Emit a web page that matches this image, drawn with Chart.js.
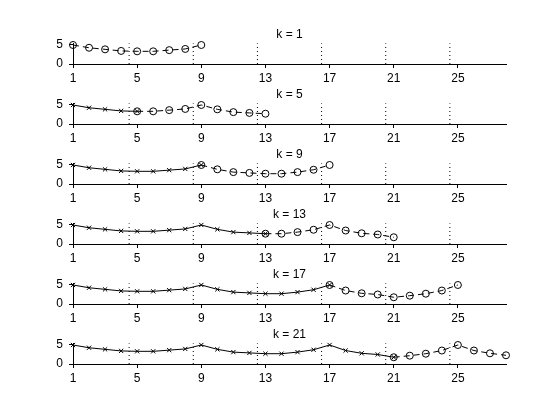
<!DOCTYPE html>
<html>
<head>
<meta charset="utf-8">
<script src="https://cdn.jsdelivr.net/npm/chart.js@4/dist/chart.umd.min.js"></script>
<style>
  body { margin: 0; background: #fff; }
  #wrap { position: relative; width: 560px; height: 420px; background: #fff; }
  canvas { position: absolute; left: 0; }
</style>
</head>
<body>
<div id="wrap"></div>
<script>
// data
const steps = [1, 2, 3, 4, 5, 6, 7, 8, 9, 10, 11, 12, 13, 14, 15, 16, 17, 18, 19, 20, 21, 22, 23, 24, 25, 26, 27, 28];
const values = [4.8, 4.1, 3.7, 3.3, 3.2, 3.2, 3.5, 3.8, 4.8, 3.7, 3.0, 2.8, 2.6, 2.6,
                3.0, 3.6, 4.8, 3.4, 2.7, 2.4, 1.7, 2.1, 2.6, 3.4, 4.8, 3.4, 2.7, 2.2];
const panels = [1, 5, 9, 13, 17, 21];
const windowLen = 9;
const boundaries = [4.5, 8.5, 12.5, 16.5, 20.5, 24.5];
const xTicks = [1, 5, 9, 13, 17, 21, 25];
const yTicks = [0, 5];

Chart.defaults.font.family = "'Liberation Sans', Arial, sans-serif";
Chart.defaults.font.size = 12;
Chart.defaults.color = '#000';

const wrap = document.getElementById('wrap');

panels.forEach((k, i) => {
  let cv = document.createElement('canvas');
  cv.width = 560;
  cv.height = 64;
  cv.style.top = (24 + 60 * i) + 'px';
  wrap.appendChild(cv);

  let past = [];
  for (let j = 0; j < k; j++) past.push({ x: steps[j], y: values[j] });
  let ahead = [];
  for (let j = k - 1; j < Math.min(k - 1 + windowLen, steps.length); j++) ahead.push({ x: steps[j], y: values[j] });

  // dotted separators
  let datasets = boundaries.map(b => ({
    data: [{ x: b, y: 0 }, { x: b, y: 5.2 }],
    borderColor: '#000', borderWidth: 1, borderDash: [1, 3],
    pointRadius: 0, clip: false
  }));
  if (k > 1) {
    datasets.push({
      data: past,
      borderColor: '#000', borderWidth: 1,
      pointStyle: 'crossRot', pointRadius: 3, pointBorderColor: '#000', pointBorderWidth: 1,
      clip: false
    });
  }
  datasets.push({
    data: ahead,
    borderColor: '#000', borderWidth: 1, borderDash: [6, 4],
    pointStyle: 'circle', pointRadius: 3.5, pointBorderColor: '#000',
    pointBackgroundColor: 'rgba(0,0,0,0)', pointBorderWidth: 1,
    clip: false
  });

  new Chart(cv, {
    type: 'line',
    data: { datasets: datasets },
    options: {
      responsive: false,
      animation: false,
      layout: { padding: { left: 0, right: 54, top: 0, bottom: 0 } },
      plugins: {
        legend: { display: false },
        tooltip: { enabled: false },
        title: {
          display: true,
          text: 'k = ' + k,
          fullSize: false,
          font: { size: 12, weight: 'normal' },
          color: '#000',
          padding: { top: 3, bottom: 2 }
        }
      },
      scales: {
        x: {
          type: 'linear', min: 1, max: 28,
          afterBuildTicks: s => { s.ticks = xTicks.map(v => ({ value: v })); },
          afterFit: s => { s.height = 24; },
          grid: { drawOnChartArea: false, tickLength: 4, color: '#000' },
          border: { display: true, color: '#000' },
          ticks: { padding: 3, maxRotation: 0, autoSkip: false, color: '#000' }
        },
        y: {
          type: 'linear', min: 0, max: 5.2,
          afterBuildTicks: s => { s.ticks = yTicks.map(v => ({ value: v })); },
          afterFit: s => { s.width = 73; },
          grid: { drawOnChartArea: false, tickLength: 4, color: '#000' },
          border: { display: true, color: '#000' },
          ticks: { padding: 6, color: '#000' }
        }
      }
    }
  });
});
</script>
</body>
</html>
